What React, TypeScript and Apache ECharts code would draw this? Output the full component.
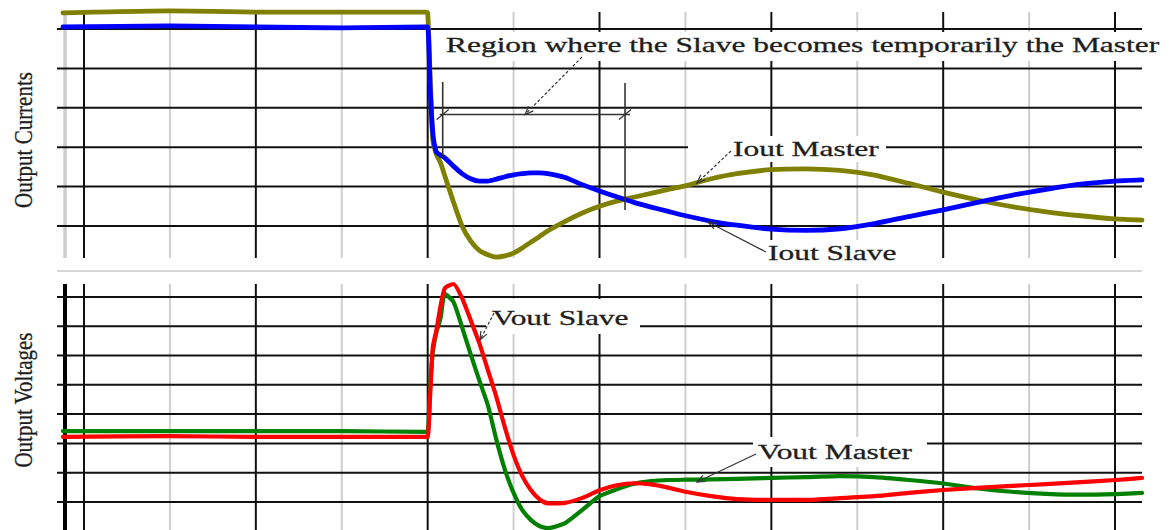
import React, { useEffect, useRef } from "react";
import * as echarts from "echarts";

// Time base in grid divisions (major division = 2 units)
const TIME = [
  -0.245, 1, 2, 3, 3.97, 4.0, 4.03, 4.06, 4.1, 4.15, 4.2, 4.3, 4.4, 4.5, 4.6, 4.7, 4.8, 4.9,
  5.0, 5.1, 5.2, 5.3, 5.4, 5.6, 5.8, 6.0, 6.2, 6.4, 6.6, 6.8, 7.0, 7.3, 7.6, 8.0, 8.4, 8.8,
  9.2, 9.6, 10.0, 10.4, 10.8, 11.2, 11.6, 12.0, 12.314,
];

// Output currents (vertical divisions)
const IOUT_MASTER = [
  5.41, 5.46, 5.43, 5.43, 5.43, 5.41,
  3.71, 2.18, 1.83, 1.6, 1.27, 0.61, 0.0, -0.38, -0.62, -0.73, -0.79, -0.76, -0.69, -0.56,
  -0.41, -0.27, -0.12, 0.12, 0.33, 0.5, 0.63, 0.73, 0.83, 0.93,
  1.02, 1.2, 1.33, 1.43, 1.45, 1.41, 1.29, 1.08, 0.86, 0.66, 0.49, 0.36, 0.26, 0.18, 0.15,
];
const IOUT_SLAVE = [
  5.05, 5.08, 5.05, 5.03, 5.05, 5.05,
  3.45, 2.36, 1.88, 1.8, 1.73, 1.52, 1.33, 1.2, 1.14, 1.14, 1.19, 1.25, 1.3, 1.33, 1.35,
  1.35, 1.33, 1.23, 1.05, 0.89, 0.74, 0.6, 0.48, 0.37,
  0.26, 0.12, 0.02, -0.08, -0.11, -0.07, 0.06, 0.24, 0.41, 0.6, 0.78, 0.93, 1.06, 1.14, 1.17,
];

// Output voltages (vertical divisions)
const VOUT_SLAVE = [
  2.22, 2.25, 2.22, 2.22, 2.22, 2.22,
  3.72, 5.29, 5.84, 6.69, 7.3, 7.44, 6.96, 6.21, 5.43, 4.51, 3.58, 2.53, 1.6, 0.89, 0.41,
  0.1, -0.05, -0.03, 0.14, 0.4, 0.57, 0.64, 0.6, 0.49, 0.35, 0.2,
  0.1, 0.07, 0.07, 0.13, 0.2, 0.31, 0.41, 0.48, 0.55, 0.61, 0.68, 0.75, 0.82,
];
const VOUT_MASTER = [
  2.42, 2.42, 2.42, 2.42, 2.39, 2.39,
  3.99, 5.12, 5.77, 6.28, 7.1, 6.83, 5.97, 5.05, 4.16, 3.31, 2.12, 1.09, 0.31, -0.27, -0.61,
  -0.82, -0.89, -0.72, -0.27, 0.2, 0.43, 0.62, 0.71, 0.75, 0.76, 0.77,
  0.79, 0.82, 0.85, 0.88, 0.85, 0.75, 0.63, 0.46, 0.35, 0.28, 0.25, 0.27, 0.31,
];

// Grid divisions
const MAJOR_DIVS = [0, 2, 4, 6, 8, 10, 12];
const MINOR_DIVS = [1, 3, 5, 7, 9, 11];
const CURRENT_LEVELS = [0, 1, 2, 3, 4, 5];
const VOLTAGE_LEVELS = [0, 1, 2, 3, 4, 5, 6, 7];
const FRAME_EDGE = -0.221;

// Region where the slave takes over (time units / current divisions)
const REGION_START = 4.175;
const REGION_END = 6.297;
const REGION_LEVEL = 2.83;

const X_MIN = -0.3143;
const X_MAX = 12.314;
const I_MIN = -0.812;
const I_MAX = 5.431;
const V_MIN = -0.956;
const V_MAX = 7.44;

const SERIF = '"Liberation Serif", "Times New Roman", serif';
const INK = "#1e1e1e";

const LINE_KINDS = [
  { color: "#111", width: 2 }, // major
  { color: "#cfcfcf", width: 2 }, // minor
  { color: "#cdcdcd", width: 3.5 }, // frame (currents)
  { color: "#000", width: 4 }, // frame (voltages)
];

const zip = (xs: number[], ys: number[]) => xs.map((x, i) => [x, ys[i]]);

function gridLines(levels: number[], frameKind: number) {
  const lines: number[][] = [];
  lines.push([0, FRAME_EDGE, frameKind]);
  MINOR_DIVS.forEach((t) => lines.push([0, t, 1]));
  MAJOR_DIVS.forEach((t) => lines.push([0, t, 0]));
  levels.forEach((v) => lines.push([1, v, 0]));
  return lines;
}

function gridSeries(gi: number, levels: number[], frameKind: number, yMin: number, yMax: number) {
  return {
    type: "custom",
    xAxisIndex: gi,
    yAxisIndex: gi,
    z: 1,
    silent: true,
    data: gridLines(levels, frameKind),
    renderItem: (_params: any, api: any) => {
      const orient = api.value(0);
      const pos = api.value(1);
      const kind = LINE_KINDS[api.value(2)];
      const a = orient === 0 ? api.coord([pos, yMin]) : api.coord([X_MIN, pos]);
      const b = orient === 0 ? api.coord([pos, yMax]) : api.coord([X_MAX, pos]);
      return {
        type: "line",
        shape: { x1: a[0], y1: a[1], x2: b[0], y2: b[1] },
        style: { stroke: kind.color, lineWidth: kind.width },
      };
    },
  };
}

function curve(name: string, gi: number, values: number[], color: string, width: number) {
  return {
    name,
    type: "line",
    xAxisIndex: gi,
    yAxisIndex: gi,
    data: zip(TIME, values),
    symbol: "none",
    smooth: 0.2,
    clip: false,
    z: 3,
    silent: true,
    lineStyle: { color, width, cap: "round", join: "round" },
  };
}

function label(text: string, x: number, y: number) {
  return {
    type: "text",
    x,
    y,
    scaleX: 1.43,
    z: 10,
    silent: true,
    style: {
      text,
      font: `22px ${SERIF}`,
      fill: INK,
      stroke: INK,
      lineWidth: 0.3,
      align: "left",
      textAlign: "left",
      verticalAlign: "middle",
      textVerticalAlign: "middle",
    },
  };
}

function axisTitle(text: string, y: number) {
  return {
    type: "text",
    x: 24,
    y,
    rotation: Math.PI / 2,
    scaleY: 1.18,
    z: 10,
    silent: true,
    style: {
      text,
      font: `21px ${SERIF}`,
      fill: INK,
      stroke: INK,
      lineWidth: 0.25,
      align: "center",
      textAlign: "center",
      verticalAlign: "middle",
      textVerticalAlign: "middle",
    },
  };
}

function whiteBox(x: number, y: number, width: number, height: number) {
  return { type: "rect", z: 2, silent: true, shape: { x, y, width, height }, style: { fill: "#fff" } };
}

function arrow(tail: number[], tip: number[], dashed: boolean) {
  const ang = Math.atan2(tip[1] - tail[1], tip[0] - tail[0]);
  const len = 9;
  const spread = 0.38;
  const p1 = [tip[0] - len * Math.cos(ang - spread), tip[1] - len * Math.sin(ang - spread)];
  const p2 = [tip[0] - len * Math.cos(ang + spread), tip[1] - len * Math.sin(ang + spread)];
  return [
    {
      type: "line",
      z: 10,
      silent: true,
      shape: { x1: tail[0], y1: tail[1], x2: tip[0], y2: tip[1] },
      style: { stroke: "#333", lineWidth: 1.2, lineDash: dashed ? [3, 2] : null },
    },
    {
      type: "polyline",
      z: 10,
      silent: true,
      shape: { points: [p1, tip, p2] },
      style: { stroke: "#333", lineWidth: 1.2, fill: null },
    },
  ];
}

function segment(a: number[], b: number[], width: number, color = "#333") {
  return {
    type: "line",
    z: 10,
    silent: true,
    shape: { x1: a[0], y1: a[1], x2: b[0], y2: b[1] },
    style: { stroke: color, lineWidth: width },
  };
}

export default function App() {
  const ref = useRef<HTMLDivElement>(null);

  useEffect(() => {
    if (!ref.current) return;
    const chart = echarts.init(ref.current, null, { renderer: "svg" });

    chart.setOption({
      animation: false,
      backgroundColor: "#fff",
      grid: [
        { left: 57, right: 27, top: 12, height: 246 },
        { left: 57, right: 27, top: 284, height: 246 },
      ],
      xAxis: [
        { gridIndex: 0, type: "value", min: X_MIN, max: X_MAX, show: false, splitLine: { show: false } },
        { gridIndex: 1, type: "value", min: X_MIN, max: X_MAX, show: false, splitLine: { show: false } },
      ],
      yAxis: [
        { gridIndex: 0, type: "value", min: I_MIN, max: I_MAX, show: false, splitLine: { show: false } },
        { gridIndex: 1, type: "value", min: V_MIN, max: V_MAX, show: false, splitLine: { show: false } },
      ],
      series: [
        gridSeries(0, CURRENT_LEVELS, 2, I_MIN, I_MAX),
        gridSeries(1, VOLTAGE_LEVELS, 3, V_MIN, V_MAX),
        curve("Iout Master", 0, IOUT_MASTER, "#808000", 4.8),
        curve("Iout Slave", 0, IOUT_SLAVE, "#0000ff", 4.8),
        curve("Vout Master", 1, VOUT_MASTER, "#008000", 4.2),
        curve("Vout Slave", 1, VOUT_SLAVE, "#ff0000", 4.2),
      ],
    });

    const top = (t: number, v: number) => chart.convertToPixel({ gridIndex: 0 }, [t, v]) as number[];
    const bot = (t: number, v: number) => chart.convertToPixel({ gridIndex: 1 }, [t, v]) as number[];

    const rs = top(REGION_START, REGION_LEVEL);
    const re = top(REGION_END, REGION_LEVEL);
    const tick = (p: number[]) => segment([p[0] - 6, p[1] + 5], [p[0] + 6, p[1] - 5], 1.2);

    const graphic: any[] = [
      // separator between the two panels
      segment([57, 271], [1142, 271], 2, "#d6d6d6"),
      // label backgrounds
      whiteBox(440, 32, 729, 29),
      whiteBox(688, 136, 198, 26),
      whiteBox(760, 240, 140, 30),
      whiteBox(486, 299, 154, 35),
      whiteBox(753, 437, 174, 30),
      // region markers
      segment(top(REGION_START, 3.655), top(REGION_START, 1.751), 1.6),
      segment(top(REGION_END, 3.63), top(REGION_END, 0.406), 1.6),
      segment([rs[0] - 3, rs[1]], [re[0] + 5, re[1]], 1.4),
      tick(rs),
      tick(re),
      ...arrow([582, 57], top(5.133, REGION_LEVEL), true),
      ...arrow([731, 151], top(7.134, 1.09), true),
      ...arrow([766, 252], top(7.263, 0.1), false),
      ...arrow([494, 313], bot(4.609, 5.53), true),
      ...arrow([756, 454], bot(7.134, 0.68), false),
      // labels
      label("Region where the Slave becomes temporarily the Master", 446, 45),
      label("Iout Master", 733, 149),
      label("Iout Slave", 768, 253),
      label("Vout Slave", 492, 318),
      label("Vout Master", 758, 452),
      axisTitle("Output Currents", 140),
      axisTitle("Output Voltages", 400),
    ];

    chart.setOption({ graphic });

    return () => chart.dispose();
  }, []);

  return (
    <div
      ref={ref}
      style={{ position: "fixed", left: 0, top: 0, width: 1169, height: 530, background: "#fff" }}
    />
  );
}
